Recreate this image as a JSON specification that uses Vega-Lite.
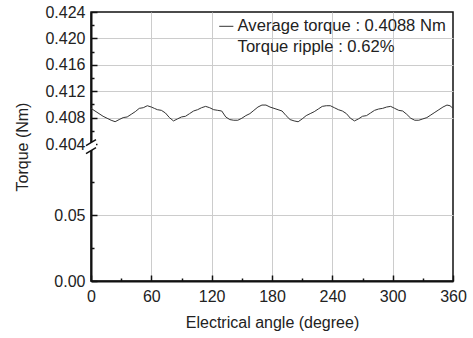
{
  "$schema": "https://vega.github.io/schema/vega-lite/v6.json",
  "width": 362,
  "height": 269,
  "autosize": {"type": "none"},
  "padding": {"left": 91, "top": 12, "right": 20, "bottom": 57},
  "background": "white",
  "config": {
    "font": "Liberation Sans",
    "view": {"stroke": "#111", "strokeWidth": 1.5},
    "axis": {"labelColor": "#222", "titleColor": "#222", "titleFont": "Liberation Sans", "labelFont": "Liberation Sans"},
    "legend": {"labelFont": "Liberation Sans"}
  },
  "layer": [
    {
      "data": {"values": [
        {"angle": 0, "torque": 0.4094}, {"angle": 4, "torque": 0.4090}, {"angle": 8, "torque": 0.4086}, {"angle": 12, "torque": 0.4082},
        {"angle": 16, "torque": 0.4079}, {"angle": 20, "torque": 0.4076}, {"angle": 24, "torque": 0.40738}, {"angle": 28, "torque": 0.4077},
        {"angle": 32, "torque": 0.4080}, {"angle": 36, "torque": 0.4081}, {"angle": 40, "torque": 0.4085}, {"angle": 44, "torque": 0.4089},
        {"angle": 48, "torque": 0.4094}, {"angle": 52, "torque": 0.4095}, {"angle": 56, "torque": 0.4098}, {"angle": 60, "torque": 0.4096},
        {"angle": 63, "torque": 0.4094}, {"angle": 66, "torque": 0.4092}, {"angle": 70, "torque": 0.4091}, {"angle": 74, "torque": 0.4087},
        {"angle": 78, "torque": 0.4080}, {"angle": 82, "torque": 0.4075}, {"angle": 86, "torque": 0.4078}, {"angle": 90, "torque": 0.4081},
        {"angle": 94, "torque": 0.4082}, {"angle": 98, "torque": 0.4086}, {"angle": 102, "torque": 0.4090}, {"angle": 106, "torque": 0.4092},
        {"angle": 110, "torque": 0.4095}, {"angle": 114, "torque": 0.4097}, {"angle": 118, "torque": 0.4095}, {"angle": 122, "torque": 0.4092},
        {"angle": 126, "torque": 0.4091}, {"angle": 130, "torque": 0.4090}, {"angle": 134, "torque": 0.4081}, {"angle": 138, "torque": 0.4077},
        {"angle": 142, "torque": 0.4076}, {"angle": 146, "torque": 0.4076}, {"angle": 150, "torque": 0.4079}, {"angle": 154, "torque": 0.4083},
        {"angle": 158, "torque": 0.4086}, {"angle": 162, "torque": 0.4091}, {"angle": 166, "torque": 0.4096}, {"angle": 170, "torque": 0.4099},
        {"angle": 174, "torque": 0.4099}, {"angle": 178, "torque": 0.4096}, {"angle": 182, "torque": 0.4094}, {"angle": 186, "torque": 0.4092},
        {"angle": 190, "torque": 0.4090}, {"angle": 194, "torque": 0.4083}, {"angle": 198, "torque": 0.4077}, {"angle": 202, "torque": 0.4075},
        {"angle": 206, "torque": 0.40737}, {"angle": 210, "torque": 0.4078}, {"angle": 214, "torque": 0.4083}, {"angle": 218, "torque": 0.4086},
        {"angle": 222, "torque": 0.4089}, {"angle": 226, "torque": 0.4093}, {"angle": 230, "torque": 0.4097}, {"angle": 234, "torque": 0.4098},
        {"angle": 238, "torque": 0.4098}, {"angle": 242, "torque": 0.4095}, {"angle": 246, "torque": 0.4092}, {"angle": 250, "torque": 0.4090},
        {"angle": 254, "torque": 0.4086}, {"angle": 258, "torque": 0.4079}, {"angle": 262, "torque": 0.4075}, {"angle": 266, "torque": 0.4078},
        {"angle": 270, "torque": 0.4082}, {"angle": 274, "torque": 0.4083}, {"angle": 278, "torque": 0.4087}, {"angle": 282, "torque": 0.4091},
        {"angle": 286, "torque": 0.4093}, {"angle": 290, "torque": 0.4094}, {"angle": 294, "torque": 0.4096}, {"angle": 298, "torque": 0.4097},
        {"angle": 302, "torque": 0.4094}, {"angle": 306, "torque": 0.4091}, {"angle": 310, "torque": 0.4090}, {"angle": 314, "torque": 0.4085},
        {"angle": 318, "torque": 0.4079}, {"angle": 322, "torque": 0.4076}, {"angle": 326, "torque": 0.4076}, {"angle": 330, "torque": 0.4078},
        {"angle": 334, "torque": 0.4080}, {"angle": 338, "torque": 0.4084}, {"angle": 342, "torque": 0.4088}, {"angle": 346, "torque": 0.4092},
        {"angle": 350, "torque": 0.4096}, {"angle": 354, "torque": 0.4099}, {"angle": 357, "torque": 0.4098}, {"angle": 360, "torque": 0.4094}
      ]},
      "mark": {"type": "line", "strokeWidth": 1},
      "encoding": {
        "x": {
          "field": "angle", "type": "quantitative",
          "scale": {"domain": [0, 360], "nice": false, "zero": false},
          "axis": {
            "values": [0, 30, 60, 90, 120, 150, 180, 210, 240, 270, 300, 330, 360],
            "tickCount": 100,
            "labelExpr": "datum.value % 60 == 0 ? datum.label : ''",
            "tickSize": {"condition": {"test": "datum.value % 60 != 0", "value": -3}, "value": -6},
            "tickColor": "#111", "tickWidth": 1.5,
            "domainColor": "#111", "domainWidth": 2,
            "grid": true,
            "gridColor": "#cccccc", "gridWidth": 1,
            "gridOpacity": {"condition": {"test": "datum.value % 60 == 0 && datum.value > 0 && datum.value < 360", "value": 1}, "value": 0},
            "labelFontSize": 16, "labelPadding": 13, "labelFlush": false, "labelOverlap": false, "labelBound": false,
            "title": "Electrical angle (degree)", "titleFontSize": 16, "titleFontWeight": "normal", "titlePadding": 7
          }
        },
        "y": {
          "field": "torque", "type": "quantitative",
          "scale": {"domain": [0, 0.1, 0.404, 0.424], "range": [269, 137, 132, 0], "nice": false, "zero": false},
          "axis": {
            "values": [0, 0.025, 0.05, 0.075, 0.404, 0.406, 0.408, 0.41, 0.412, 0.414, 0.416, 0.418, 0.42, 0.422, 0.424],
            "tickCount": 100,
            "labelExpr": "indexof([0, 0.05], datum.value) >= 0 ? format(datum.value, '.2f') : (indexof([0.404, 0.408, 0.412, 0.416, 0.42, 0.424], datum.value) >= 0 ? format(datum.value, '.3f') : '')",
            "tickSize": {"condition": {"test": "indexof([0.025, 0.075, 0.406, 0.41, 0.414, 0.418, 0.422], datum.value) >= 0", "value": -3}, "value": -6},
            "tickColor": "#111", "tickWidth": 1.5,
            "domainColor": "#111", "domainWidth": 2,
            "grid": true,
            "gridColor": "#cccccc", "gridWidth": 1,
            "gridOpacity": {"condition": {"test": "indexof([0.05, 0.408, 0.412, 0.416, 0.42], datum.value) >= 0", "value": 1}, "value": 0},
            "labelFontSize": 16, "labelPadding": 12, "labelFlush": false, "labelOverlap": false, "labelBound": false,
            "title": "Torque (Nm)", "titleFontSize": 16, "titleFontWeight": "normal", "titlePadding": 14
          }
        },
        "color": {
          "datum": "Average torque : 0.4088 Nm", "type": "nominal",
          "scale": {"domain": ["Average torque : 0.4088 Nm", "Torque ripple : 0.62%"], "range": ["#333333", "rgba(0,0,0,0)"]},
          "legend": {
            "orient": "none", "legendX": 127, "legendY": 6,
            "title": null, "symbolType": "stroke", "symbolSize": 200, "symbolStrokeWidth": 1,
            "labelFontSize": 16.6, "labelColor": "#222", "labelOffset": 3, "labelLimit": 400, "rowPadding": 3.5, "padding": 0
          }
        }
      }
    },
    {
      "data": {"values": [{"angle": 0, "torque": 0.25}]},
      "mark": {"type": "point", "shape": "M -1 -0.2 L 1 -1.4 L 1 0.2 L -1 1.4 Z", "filled": true, "fill": "white", "strokeWidth": 0, "opacity": 1, "size": 100},
      "encoding": {
        "x": {"field": "angle", "type": "quantitative"},
        "y": {"field": "torque", "type": "quantitative"}
      }
    },
    {
      "data": {"values": [{"angle": 0, "torque": 0.25}]},
      "mark": {"type": "point", "shape": "M -1 -0.2 L 1 -1.4 M -1 1.4 L 1 0.2", "filled": false, "stroke": "#111", "strokeWidth": 1.5, "opacity": 1, "size": 100},
      "encoding": {
        "x": {"field": "angle", "type": "quantitative"},
        "y": {"field": "torque", "type": "quantitative"}
      }
    }
  ]
}
